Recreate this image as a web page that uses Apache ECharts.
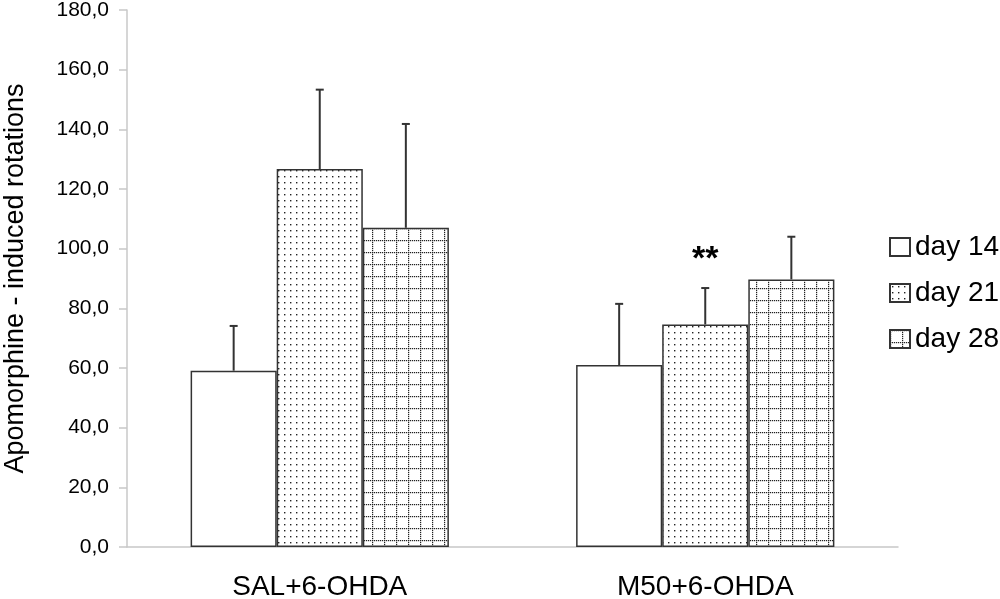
<!DOCTYPE html>
<html>
<head>
<meta charset="utf-8">
<script src="https://cdn.jsdelivr.net/npm/echarts@6/dist/echarts.min.js"></script>
<style>
  html, body { margin: 0; padding: 0; background: #fff; }
  #chart { width: 1000px; height: 599px; }
</style>
</head>
<body>
<div id="chart"></div>
<script>
// values
const categories = ['SAL+6-OHDA', 'M50+6-OHDA'];
const seriesNames = ['day 14', 'day 21', 'day 28'];
const day14 = [59.1, 61.0];
const day21 = [126.7, 74.6];
const day28 = [107.0, 89.7];
const err14 = [15.0, 20.5];
const err21 = [26.6, 12.2];
const err28 = [34.8, 14.3];
const marks21 = ['', '**'];
const yTicks = [0, 20, 40, 60, 80, 100, 120, 140, 160, 180];

const FONT = 'Liberation Sans, Arial, sans-serif';
const INK = '#333';
const GAP = 0.33;

// fill patterns
function dotPattern() {
    const c = document.createElement('canvas');
    c.width = 6; c.height = 6;
    const g = c.getContext('2d');
    g.fillStyle = '#fff'; g.fillRect(0, 0, 6, 6);
    g.fillStyle = '#222'; g.fillRect(2, 2, 1.4, 1.4);
    return c;
}
function gridPattern() {
    const c = document.createElement('canvas');
    c.width = 12; c.height = 12;
    const g = c.getContext('2d');
    g.fillStyle = '#fff'; g.fillRect(0, 0, 12, 12);
    g.fillStyle = '#222';
    for (let i = 0; i < 12; i += 2) {
        g.fillRect(i, 0, 1.2, 1.2);
        g.fillRect(0, i, 1.2, 1.2);
    }
    return c;
}

const fills = [
    '#fff',
    { image: dotPattern(), repeat: 'repeat' },
    { image: gridPattern(), repeat: 'repeat' }
];
const means = [day14, day21, day28];
const errs = [err14, err21, err28];
const marks = [['', ''], marks21, ['', '']];

const fmt = v => v.toFixed(1).replace('.', ',');

const barSeries = seriesNames.map((name, k) => ({
    name: name,
    type: 'bar',
    barGap: '0%',
    barCategoryGap: (GAP * 100) + '%',
    data: means[k],
    itemStyle: { color: fills[k], borderColor: INK, borderWidth: 1.5 },
    emphasis: { disabled: true }
}));

// error bars (upper only) and significance stars
const errSeries = seriesNames.map((name, k) => ({
    type: 'custom',
    z: 5,
    data: means[k].map((m, i) => [i, m, m + errs[k][i]]),
    renderItem: function (params, api) {
        const i = api.value(0);
        const base = api.coord([i, api.value(1)]);
        const top = api.coord([i, api.value(2)]);
        const band = api.size([1, 0])[0];
        const bw = band * (1 - GAP) / 3;
        const x = base[0] + (k - 1) * bw;
        const style = { stroke: INK, lineWidth: 2 };
        const kids = [
            { type: 'line', shape: { x1: x, y1: base[1], x2: x, y2: top[1] }, style: style },
            { type: 'line', shape: { x1: x - 4, y1: top[1], x2: x + 4, y2: top[1] }, style: style }
        ];
        const mark = marks[k][i];
        if (mark) {
            kids.push({
                type: 'text',
                style: {
                    text: mark, x: x, y: top[1] - 11,
                    align: 'center', verticalAlign: 'bottom',
                    fontSize: 34, fontWeight: 'bold', fontFamily: FONT, fill: '#000'
                }
            });
        }
        return { type: 'group', children: kids };
    }
}));

const chart = echarts.init(document.getElementById('chart'));
chart.setOption({
    animation: false,
    backgroundColor: '#fff',
    grid: { left: 127, right: 102, top: 10, bottom: 52, outerBoundsMode: 'none' },
    legend: {
        data: seriesNames,
        orient: 'vertical',
        left: 889,
        top: 233,
        padding: 0,
        itemWidth: 20,
        itemHeight: 18,
        itemGap: 18,
        icon: 'rect',
        selectedMode: false,
        textStyle: { fontSize: 28, fontFamily: FONT, color: '#000' }
    },
    xAxis: {
        type: 'category',
        data: categories,
        axisLine: { lineStyle: { color: '#c8c8c8', width: 1.5 } },
        axisTick: { length: 8, lineStyle: { color: '#c8c8c8', width: 1.5 } },
        axisLabel: { fontSize: 28, fontFamily: FONT, color: '#000', margin: 26 }
    },
    yAxis: {
        type: 'value',
        min: yTicks[0],
        max: yTicks[yTicks.length - 1],
        interval: 20,
        name: 'Apomorphine - induced rotations',
        nameLocation: 'middle',
        nameGap: 98,
        nameTextStyle: { fontSize: 27, fontFamily: FONT, color: '#000' },
        splitLine: { show: false },
        axisLine: { show: true, lineStyle: { color: '#c8c8c8', width: 1.5 } },
        axisTick: { show: true, length: 8, lineStyle: { color: '#c8c8c8', width: 1.5 } },
        axisLabel: { fontSize: 21, fontFamily: FONT, color: '#000', margin: 18, formatter: fmt }
    },
    series: barSeries.concat(errSeries)
});
</script>
</body>
</html>
